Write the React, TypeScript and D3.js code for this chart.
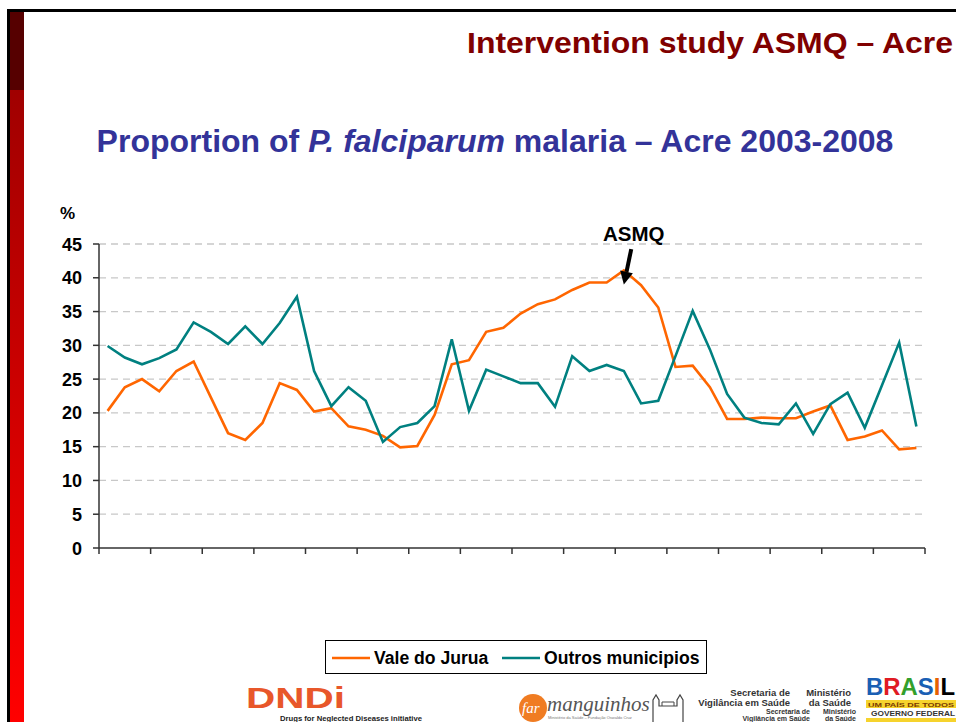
import React from 'react';
import * as d3 from 'd3';

// 48 periods, 2003-2008 (axis has no labels, ticks every 3 periods)
const periods = d3.range(48).map((i) => `P${i + 1}`);

const valeDoJurua = [
  20.3, 23.8, 25.0, 23.2, 26.2, 27.6, 22.3, 17.0, 16.0, 18.5, 24.4, 23.4,
  20.2, 20.7, 18.0, 17.5, 16.6, 14.9, 15.1, 19.7, 27.2, 27.8, 32.0, 32.6,
  34.7, 36.1, 36.8, 38.2, 39.3, 39.3, 41.1, 38.9, 35.6, 26.8, 27.0, 23.8,
  19.1, 19.1, 19.3, 19.2, 19.2, 20.2, 21.1, 16.0, 16.5, 17.4, 14.6, 14.8,
];

const outrosMunicipios = [
  29.9, 28.2, 27.2, 28.1, 29.4, 33.4, 32.0, 30.2, 32.8, 30.2, 33.3, 37.2,
  26.2, 21.0, 23.8, 21.8, 15.7, 17.9, 18.5, 21.0, 30.9, 20.3, 26.4, 25.4,
  24.4, 24.4, 20.9, 28.4, 26.2, 27.1, 26.2, 21.4, 21.8, 28.4, 35.1, 29.4,
  22.8, 19.3, 18.5, 18.3, 21.4, 16.9, 21.3, 23.0, 17.8, 24.1, 30.4, 18.0,
];

const yTicks = [0, 5, 10, 15, 20, 25, 30, 35, 40, 45];
const seriesNames = ['Vale do Jurua', 'Outros municipios'];
const seriesColors = ['#ff6600', '#008080'];

const FONT = '"Liberation Sans", Arial, Helvetica, sans-serif';

export default function App() {
  const width = 956;
  const height = 722;

  // band edges -> linear on the period index, points sit at band centres
  const xb = d3.scaleLinear().domain([0, periods.length]).range([99, 925]);
  const xp = (i: number) => xb(i + 0.5);
  const y = d3.scaleLinear().domain([0, 45]).range([548, 244]);

  const line = d3
    .line<number>()
    .x((d, i) => xp(i))
    .y((d) => y(d));

  const xTicks = d3.range(0, periods.length + 1, 3);

  // arrow for the ASMQ annotation, tip just under the peak
  const tip: [number, number] = [xp(30), y(39)];
  const tail: [number, number] = [tip[0] + 7.4, tip[1] - 35.5];
  const dx = tip[0] - tail[0];
  const dy = tip[1] - tail[1];
  const len = Math.sqrt(dx * dx + dy * dy);
  const ux = dx / len;
  const uy = dy / len;
  const baseX = tip[0] - ux * 13;
  const baseY = tip[1] - uy * 13;
  const head = [
    [tip[0], tip[1]],
    [baseX + uy * 6.5, baseY - ux * 6.5],
    [baseX - uy * 6.5, baseY + ux * 6.5],
  ]
    .map((p) => p.join(','))
    .join(' ');

  return (
    <svg
      width={width}
      height={height}
      style={{ position: 'absolute', left: 0, top: 0, background: '#fff' }}
      fontFamily={FONT}
    >
      <defs>
        <linearGradient id="redbar" x1="0" y1="0" x2="0" y2="1">
          <stop offset="0" stopColor="#a00000" />
          <stop offset="1" stopColor="#ff0000" />
        </linearGradient>
      </defs>

      {/* slide frame */}
      <rect x={10} y={12} width={14} height={78} fill="#560000" />
      <rect x={10} y={90} width={14} height={632} fill="url(#redbar)" />
      <line x1={8.5} y1={9} x2={8.5} y2={722} stroke="#000" strokeWidth={3} />
      <line x1={7} y1={10.5} x2={956} y2={10.5} stroke="#000" strokeWidth={3} />

      <text
        x={953}
        y={53}
        textAnchor="end"
        fontSize={30}
        fontWeight="bold"
        fill="#800000"
        textLength={486}
        lengthAdjust="spacingAndGlyphs"
      >
        Intervention study ASMQ – Acre
      </text>

      <text x={495} y={152} textAnchor="middle" fontSize={32} fontWeight="bold" fill="#333399">
        Proportion of <tspan fontStyle="italic">P. falciparum</tspan> malaria – Acre 2003-2008
      </text>

      {/* grid */}
      {yTicks
        .filter((t) => t > 0)
        .map((t) => (
          <line
            key={'g' + t}
            x1={xb(0)}
            x2={922}
            y1={y(t)}
            y2={y(t)}
            stroke="#c8c8c8"
            strokeWidth={1.3}
            strokeDasharray="7,5"
          />
        ))}

      {/* y axis */}
      <line x1={xb(0)} x2={xb(0)} y1={y(45)} y2={y(0)} stroke="#333" strokeWidth={1.5} />
      {yTicks.map((t) => (
        <g key={'y' + t}>
          <line x1={xb(0) - 6} x2={xb(0)} y1={y(t)} y2={y(t)} stroke="#333" strokeWidth={1.5} />
          <text x={82} y={y(t) + 6.5} textAnchor="end" fontSize={18} fontWeight="bold" fill="#000">
            {t}
          </text>
        </g>
      ))}
      <text x={60} y={219} fontSize={17} fontWeight="bold" fill="#000">
        %
      </text>

      {/* x axis */}
      <line x1={xb(0)} x2={xb(periods.length)} y1={y(0)} y2={y(0)} stroke="#333" strokeWidth={1.5} />
      {xTicks.map((t) => (
        <line key={'x' + t} x1={xb(t)} x2={xb(t)} y1={y(0)} y2={y(0) + 6} stroke="#333" strokeWidth={1.5} />
      ))}

      {/* series */}
      <path d={line(valeDoJurua) || ''} fill="none" stroke={seriesColors[0]} strokeWidth={2.6} strokeLinejoin="miter" />
      <path d={line(outrosMunicipios) || ''} fill="none" stroke={seriesColors[1]} strokeWidth={2.6} strokeLinejoin="miter" />

      {/* ASMQ annotation */}
      <text x={603} y={241} fontSize={20.5} fontWeight="bold" fill="#000">
        ASMQ
      </text>
      <line x1={tail[0]} y1={tail[1]} x2={baseX} y2={baseY} stroke="#000" strokeWidth={4} />
      <polygon points={head} fill="#000" />

      {/* legend */}
      <rect x={325.5} y={640.5} width={381} height={33} fill="#fff" stroke="#000" strokeWidth={1} />
      {seriesNames.map((name, i) => {
        const lx = [332, 502][i];
        return (
          <g key={name}>
            <line x1={lx} x2={lx + 38} y1={658} y2={658} stroke={seriesColors[i]} strokeWidth={2.6} />
            <text x={lx + 42} y={664} fontSize={17.6} fontWeight="bold" fill="#000">
              {name}
            </text>
          </g>
        );
      })}

      {/* footer logos */}
      <text x={246} y={708} fontSize={29} fontWeight="900" fill="#e8572a" textLength={99} lengthAdjust="spacingAndGlyphs">
        DNDi
      </text>
      <text x={280} y={721} fontSize={6.5} fontWeight="bold" fill="#222" textLength={142} lengthAdjust="spacingAndGlyphs">
        Drugs for Neglected Diseases initiative
      </text>

      <ellipse cx={533} cy={708} rx={14} ry={14} fill="#f07c22" />
      <text x={522} y={713} fontSize={15} fontStyle="italic" fill="#fff" fontFamily="'Liberation Serif', serif">
        far
      </text>
      <text x={547} y={711} fontSize={21} fontStyle="italic" fill="#555" fontFamily="'Liberation Serif', serif">
        manguinhos
      </text>
      <text x={548} y={719} fontSize={4} fill="#777">
        Ministério da Saúde – Fundação Oswaldo Cruz
      </text>
      <path
        d="M653,722 L653,700 L656,695 L659,700 L659,706 L677,706 L677,700 L680,695 L683,700 L683,722"
        fill="none"
        stroke="#444"
        strokeWidth={1.2}
      />
      <path d="M662,706 L662,702 L674,702 L674,706" fill="none" stroke="#444" strokeWidth={1} />

      <g fontWeight="bold" fill="#333">
        <text x={790} y={696} textAnchor="end" fontSize={9.5}>Secretaria de</text>
        <text x={790} y={706} textAnchor="end" fontSize={9.5}>Vigilância em Saúde</text>
        <text x={851} y={696} textAnchor="end" fontSize={9.5}>Ministério</text>
        <text x={851} y={706} textAnchor="end" fontSize={9.5}>da Saúde</text>
        <text x={810} y={714} textAnchor="end" fontSize={7}>Secretaria de</text>
        <text x={810} y={721} textAnchor="end" fontSize={7}>Vigilância em Saúde</text>
        <text x={856} y={714} textAnchor="end" fontSize={7}>Ministério</text>
        <text x={856} y={721} textAnchor="end" fontSize={7}>da Saúde</text>
      </g>

      <text x={866} y={695} fontWeight="900" fontSize={23} textLength={89} lengthAdjust="spacingAndGlyphs">
        <tspan fill="#1a5fb4">B</tspan>
        <tspan fill="#e01b24">R</tspan>
        <tspan fill="#33a02c">A</tspan>
        <tspan fill="#1a5fb4">S</tspan>
        <tspan fill="#e66100">I</tspan>
        <tspan fill="#000">L</tspan>
      </text>
      <rect x={866} y={700} width={90} height={8} fill="#f6d32d" />
      <text x={868} y={707} fontSize={6} fontWeight="bold" fill="#7a3a00" textLength={86} lengthAdjust="spacingAndGlyphs">
        UM PAÍS DE TODOS
      </text>
      <text x={871} y={716} fontSize={7.5} fontWeight="bold" fill="#333" textLength={84} lengthAdjust="spacingAndGlyphs">
        GOVERNO FEDERAL
      </text>
      <rect x={866} y={718} width={90} height={4} fill="#f6d32d" />
    </svg>
  );
}
